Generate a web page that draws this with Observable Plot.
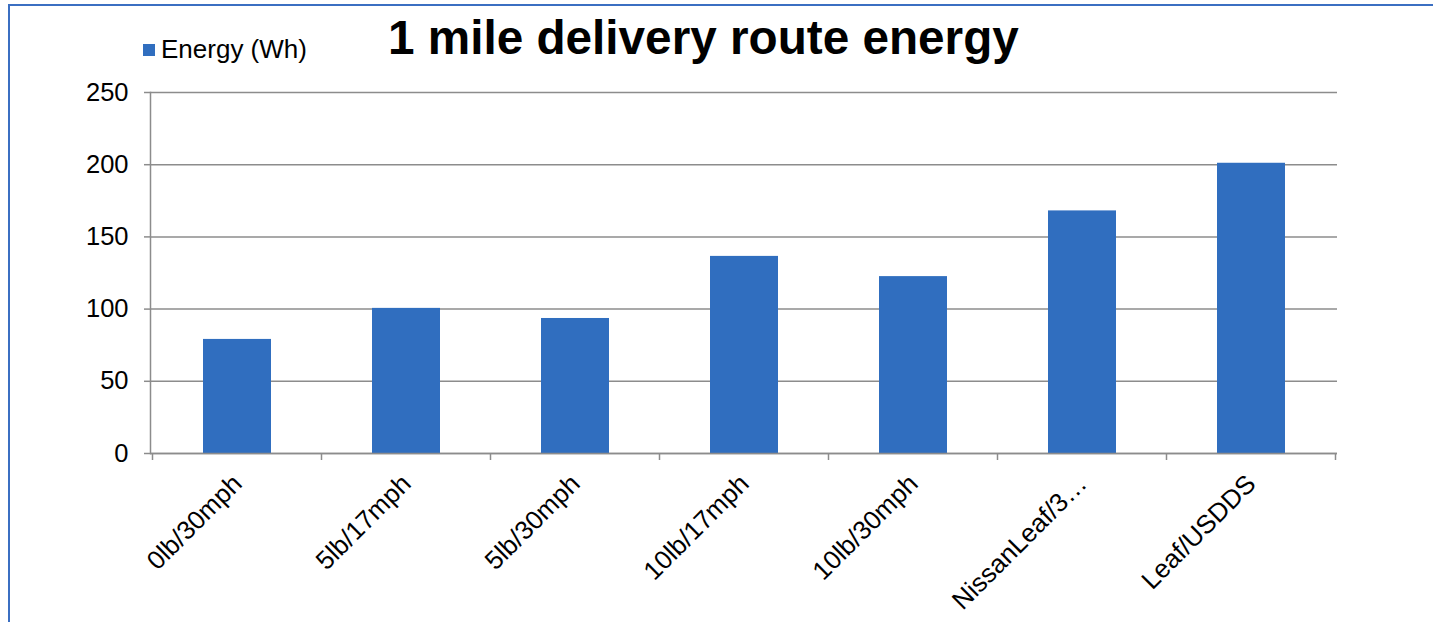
<!DOCTYPE html>
<html>
<head>
<meta charset="utf-8">
<script src="https://cdn.jsdelivr.net/npm/d3@7"></script>
<script src="https://cdn.jsdelivr.net/npm/@observablehq/plot@0.6"></script>
<style>
  html, body { margin: 0; padding: 0; background: #fff; }
  #wrap { position: relative; width: 1433px; height: 622px; overflow: hidden; font-family: "Liberation Sans", Arial, sans-serif; }
  #border { position: absolute; left: 8px; top: 4px; width: 1500px; height: 700px; border-left: 2.5px solid #3b6fc2; border-top: 2.5px solid #3b6fc2; }
  #chart { position: absolute; left: 0; top: 0; }
  #title { position: absolute; left: 388px; top: 14px; font-size: 47.7px; line-height: 48px; font-weight: bold; color: #000; white-space: nowrap; }
  #legend { position: absolute; left: 143px; top: 36px; font-size: 26px; line-height: 26px; color: #000; white-space: nowrap; display: flex; align-items: center; }
  #legend .sw { display: inline-block; width: 12px; height: 12px; background: #306ebf; margin-right: 6px; margin-top: 2px; }
</style>
</head>
<body>
<div id="wrap">
  <div id="border"></div>
  <div id="chart"></div>
  <div id="legend"><span class="sw"></span><span>Energy (Wh)</span></div>
  <div id="title">1 mile delivery route energy</div>
</div>
<script>
const categories = ["0lb/30mph", "5lb/17mph", "5lb/30mph", "10lb/17mph", "10lb/30mph", "NissanLeaf/3…", "Leaf/USDDS"];
const energyWh = [79, 100.5, 93.5, 136.5, 122.5, 168, 201];
const yTicks = [0, 50, 100, 150, 200, 250];
const seriesName = "Energy (Wh)";

const data = categories.map((c, i) => ({category: c, value: energyWh[i]}));
const grey = "#8c8c8c";

function bandTicks(index, scales, values, dimensions) {
  const x = scales.x;
  const step = x.step();
  const bounds = categories.map(c => x(c) - (step - x.bandwidth()) / 2);
  bounds.push(bounds[bounds.length - 1] + step);
  const y0 = dimensions.height - dimensions.marginBottom;
  const g = d3.create("svg:g");
  g.selectAll("line").data(bounds).join("line")
    .attr("x1", d => d).attr("x2", d => d)
    .attr("y1", y0).attr("y2", y0 + 7)
    .attr("stroke", grey).attr("stroke-width", 1.5);
  return g.node();
}

const chart = Plot.plot({
  width: 1433,
  height: 622,
  marginLeft: 150,
  marginRight: 96,
  marginTop: 92,
  marginBottom: 169,
  style: {fontFamily: "Liberation Sans, Arial, sans-serif", fontSize: "25px", color: "#000", background: "transparent"},
  x: {domain: categories, paddingInner: 0.6, paddingOuter: 0.3, axis: null},
  y: {domain: [0, 250], axis: null},
  marks: [
    Plot.ruleY(yTicks, {stroke: grey, strokeWidth: 1.5, strokeOpacity: 1}),
    Plot.axisY({ticks: yTicks, tickSize: 6, tickPadding: 16, fontSize: 25.5, stroke: grey, strokeWidth: 1.5, strokeOpacity: 1, label: null, fill: "#000"}),
    Plot.frame({anchor: "left", stroke: grey, strokeWidth: 1.5}),
    Plot.barY(data, {x: "category", y: "value", fill: "#306ebf", title: d => `${seriesName}: ${d.value}`}),
    Plot.ruleY([0], {stroke: grey, strokeWidth: 1.5}),
    Plot.ruleY([0], {render: bandTicks}),
    Plot.text(categories, {x: d => d, frameAnchor: "bottom", rotate: -45, textAnchor: "end", lineAnchor: "middle", dx: 0, dy: 26, fontSize: 26, fill: "#000"})
  ]
});
document.getElementById("chart").appendChild(chart);
</script>
</body>
</html>
